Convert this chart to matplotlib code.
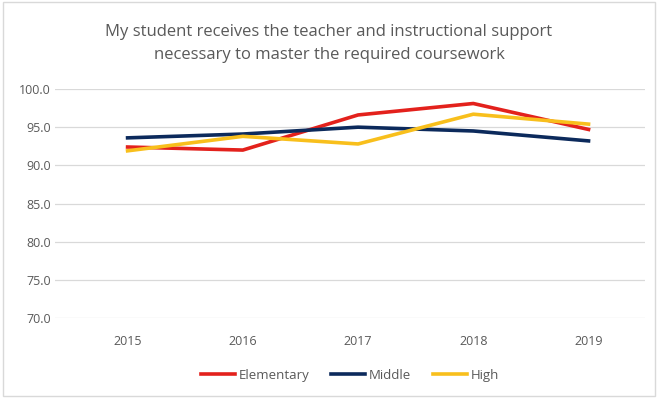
import matplotlib.pyplot as plt
from matplotlib.patches import Rectangle

years = ["2015", "2016", "2017", "2018", "2019"]
elementary = [92.4, 92.0, 96.6, 98.1, 94.7]
middle = [93.6, 94.1, 95.0, 94.5, 93.2]
high = [91.9, 93.8, 92.8, 96.7, 95.4]

plt.rcParams['font.family'] = ['Open Sans', 'DejaVu Sans']

fig = plt.figure(figsize=(6.58, 3.98), dpi=100)
fig.patches.append(Rectangle((0.004, 0.004), 0.992, 0.992, transform=fig.transFigure,
                             fill=False, edgecolor="#d9d9d9", linewidth=1))
ax = fig.add_axes([55 / 658, 1 - 318 / 398, 590 / 658, 229 / 398])

x = range(len(years))
ax.plot(x, elementary, color="#e3211c", lw=2.6, label="Elementary")
ax.plot(x, middle, color="#0c2a5c", lw=2.6, label="Middle")
ax.plot(x, high, color="#f8bf1c", lw=2.6, label="High")

ax.set_ylim(70, 100)
ax.set_yticks(range(70, 101, 5))
ax.set_yticklabels([f"{v:.1f}" for v in range(70, 101, 5)])
ax.set_xlim(-0.63, 4.49)
ax.set_xticks(list(x))
ax.set_xticklabels(years)
ax.tick_params(length=0, labelsize=9, colors="#595959")
ax.tick_params(axis="y", pad=3)
ax.tick_params(axis="x", pad=12)
ax.grid(axis="y", color="#d9d9d9", lw=0.9)
ax.set_axisbelow(True)
for s in ax.spines.values():
    s.set_visible(False)

fig.text(0.5, 0.89, "My student receives the teacher and instructional support\nnecessary to master the required coursework",
         ha="center", va="center", fontsize=12, color="#595959", linespacing=1.6)

ax.legend(loc="center", bbox_to_anchor=(0.5, -0.25), ncol=3, frameon=False,
          fontsize=9.5, labelcolor="#595959", handlelength=2.6, handletextpad=0.3, columnspacing=1.6)

fig.savefig("out.png", dpi=100)
